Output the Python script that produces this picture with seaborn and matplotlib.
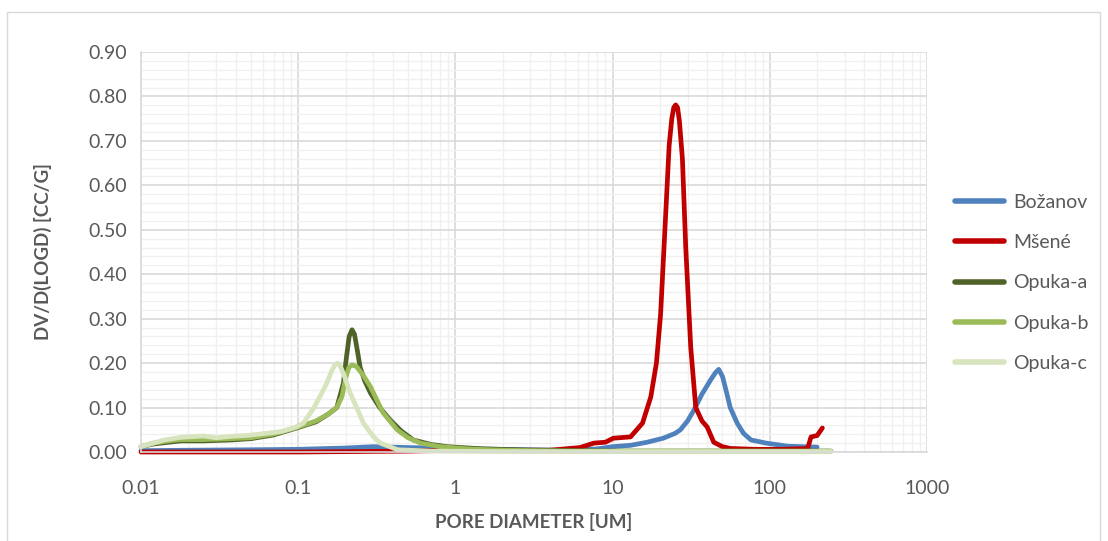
import numpy as np
import pandas as pd
import matplotlib
matplotlib.use("Agg")
import matplotlib.pyplot as plt
import seaborn as sns
from matplotlib.ticker import FixedLocator, FuncFormatter, MultipleLocator, LogLocator, NullFormatter
from matplotlib.patches import Rectangle
from matplotlib.lines import Line2D

# ---------------- data ----------------
bozanov_d = [0.01, 0.02, 0.05, 0.1, 0.2, 0.3, 0.5, 1, 2, 5, 8, 10, 13, 16.6, 21, 25, 27, 30, 33,
             37, 42, 45, 47.3, 50, 53, 56, 62, 68, 76, 95, 130, 200]
bozanov_v = [0.003, 0.004, 0.005, 0.006, 0.009, 0.012, 0.010, 0.008, 0.006, 0.004, 0.007, 0.012,
             0.015, 0.022, 0.031, 0.042, 0.050, 0.070, 0.095, 0.130, 0.162, 0.178, 0.186, 0.170,
             0.135, 0.100, 0.065, 0.042, 0.027, 0.020, 0.013, 0.011]

msene_d = [0.01, 0.1, 0.5, 1, 2, 4, 6.2, 7.6, 9, 10.1, 13, 15.5, 17.5, 19, 20.2, 21.8, 22.9, 23.8,
           24.5, 25.2, 25.9, 26.6, 27.8, 29.2, 31.4, 33.8, 37, 40, 44, 50, 56, 80, 120, 174, 183,
           200, 216]
msene_v = [0.0, 0.0, 0.002, 0.004, 0.004, 0.004, 0.010, 0.020, 0.022, 0.031, 0.034, 0.065, 0.124,
           0.200, 0.310, 0.540, 0.690, 0.750, 0.775, 0.781, 0.775, 0.745, 0.660, 0.460, 0.236,
           0.100, 0.070, 0.056, 0.022, 0.012, 0.008, 0.006, 0.006, 0.008, 0.034, 0.037, 0.054]

opuka_a_d = [0.01, 0.012, 0.015, 0.018, 0.025, 0.037, 0.05, 0.069, 0.098, 0.13, 0.155, 0.176, 0.194,
             0.203, 0.211, 0.22, 0.228, 0.236, 0.248, 0.265, 0.288, 0.33, 0.385, 0.45, 0.54, 0.7,
             0.885, 1.5, 3, 10, 50, 245]
opuka_a_v = [0.012, 0.018, 0.022, 0.025, 0.025, 0.027, 0.030, 0.038, 0.054, 0.068, 0.085, 0.100,
             0.155, 0.215, 0.260, 0.275, 0.265, 0.235, 0.190, 0.160, 0.133, 0.100, 0.072, 0.048,
             0.027, 0.017, 0.012, 0.007, 0.004, 0.002, 0.002, 0.002]

opuka_b_d = [0.01, 0.012, 0.015, 0.018, 0.025, 0.037, 0.05, 0.069, 0.098, 0.13, 0.155, 0.176, 0.19,
             0.2, 0.21, 0.22, 0.235, 0.26, 0.288, 0.347, 0.426, 0.5, 0.6, 0.8, 1.2, 2, 5, 20, 245]
opuka_b_v = [0.012, 0.020, 0.025, 0.028, 0.028, 0.030, 0.032, 0.040, 0.055, 0.070, 0.085, 0.100,
             0.125, 0.165, 0.190, 0.196, 0.192, 0.172, 0.147, 0.088, 0.050, 0.032, 0.020, 0.012,
             0.007, 0.004, 0.002, 0.002, 0.002]

opuka_c_d = [0.01, 0.012, 0.014, 0.018, 0.025, 0.03, 0.037, 0.05, 0.078, 0.095, 0.108, 0.126, 0.14,
             0.152, 0.163, 0.171, 0.178, 0.186, 0.196, 0.214, 0.26, 0.3, 0.333, 0.43, 0.7, 2, 10,
             50, 245]
opuka_c_v = [0.012, 0.020, 0.027, 0.033, 0.036, 0.032, 0.035, 0.038, 0.046, 0.055, 0.065, 0.100,
             0.130, 0.155, 0.182, 0.196, 0.200, 0.192, 0.172, 0.133, 0.065, 0.035, 0.020, 0.005,
             0.002, 0.001, 0.001, 0.001, 0.001]

series_names = ["Božanov", "Mšené", "Opuka-a", "Opuka-b", "Opuka-c"]
series_colors = ["#4F81BD", "#C00000", "#4F6228", "#9BBB59", "#D7E4BD"]

y_ticks = [0.0, 0.1, 0.2, 0.3, 0.4, 0.5, 0.6, 0.7, 0.8, 0.9]
x_ticks = [0.01, 0.1, 1, 10, 100, 1000]
x_tick_labels = ["0.01", "0.1", "1", "10", "100", "1000"]

# ---------------- frame ----------------
frames = []
for name, d, v in zip(series_names,
                      [bozanov_d, msene_d, opuka_a_d, opuka_b_d, opuka_c_d],
                      [bozanov_v, msene_v, opuka_a_v, opuka_b_v, opuka_c_v]):
    frames.append(pd.DataFrame({"sample": name, "diameter": d, "value": v}))
df = pd.concat(frames, ignore_index=True)

sns.set_theme(style="white")
plt.rcParams["font.family"] = ["Lato", "DejaVu Sans"]

W, H = 1108, 541
fig = plt.figure(figsize=(W / 100, H / 100), dpi=100)
ax = fig.add_axes([141 / W, 1 - 452 / H, (927 - 141) / W, (452 - 52) / H])

sns.lineplot(data=df, x="diameter", y="value", hue="sample", hue_order=series_names,
             palette=dict(zip(series_names, series_colors)), estimator=None, sort=True,
             linewidth=3.4, ax=ax, legend=False)
for ln in ax.lines:
    ln.set_clip_on(False)
    ln.set_solid_capstyle("round")
    ln.set_solid_joinstyle("round")

ax.set_xscale("log")
ax.set_xlim(0.01, 1000)
ax.set_ylim(0, 0.9)

ax.xaxis.set_major_locator(FixedLocator(x_ticks))
ax.xaxis.set_major_formatter(FuncFormatter(lambda v, p: x_tick_labels[x_ticks.index(v)] if v in x_ticks else ""))
ax.xaxis.set_minor_locator(LogLocator(base=10, subs=np.arange(2, 10)))
ax.xaxis.set_minor_formatter(NullFormatter())
ax.yaxis.set_major_locator(FixedLocator(y_ticks))
ax.yaxis.set_major_formatter(FuncFormatter(lambda v, p: f"{v:.2f}"))
ax.yaxis.set_minor_locator(MultipleLocator(0.02))

ax.grid(which="major", color="#D9D9D9", linewidth=1.2)
ax.grid(which="minor", color="#F0F0F0", linewidth=1.0)
ax.set_axisbelow(True)
for s in ["top", "right"]:
    ax.spines[s].set_visible(False)
for s in ["left", "bottom"]:
    ax.spines[s].set_color("#D9D9D9")
    ax.spines[s].set_linewidth(1.2)

ax.tick_params(which="both", length=0, labelsize=14, colors="#595959")
ax.tick_params(axis="x", pad=20)
ax.tick_params(axis="y", pad=10)

ax.set_xlabel("PORE DIAMETER [UM]", fontsize=13.5, fontweight="bold", color="#595959", labelpad=12)
ax.set_ylabel("DV/D(LOGD) [CC/G]", fontsize=13.5, fontweight="bold", color="#595959", labelpad=26)

handles = [Line2D([0], [0], color=c, lw=4) for c in series_colors]
fig.legend(handles, series_names, loc="center left", bbox_to_anchor=(0.846, 0.477),
           frameon=False, fontsize=14, handlelength=2.55, labelspacing=1.2,
           handletextpad=0.45, labelcolor="#595959")

fig.patches.append(Rectangle((7 / W, -0.1), (W - 8 - 7) / W, 1.1 - 12 / H, transform=fig.transFigure,
                             fill=False, edgecolor="#D9D9D9", linewidth=1.0))

fig.savefig("out.png", dpi=100)
